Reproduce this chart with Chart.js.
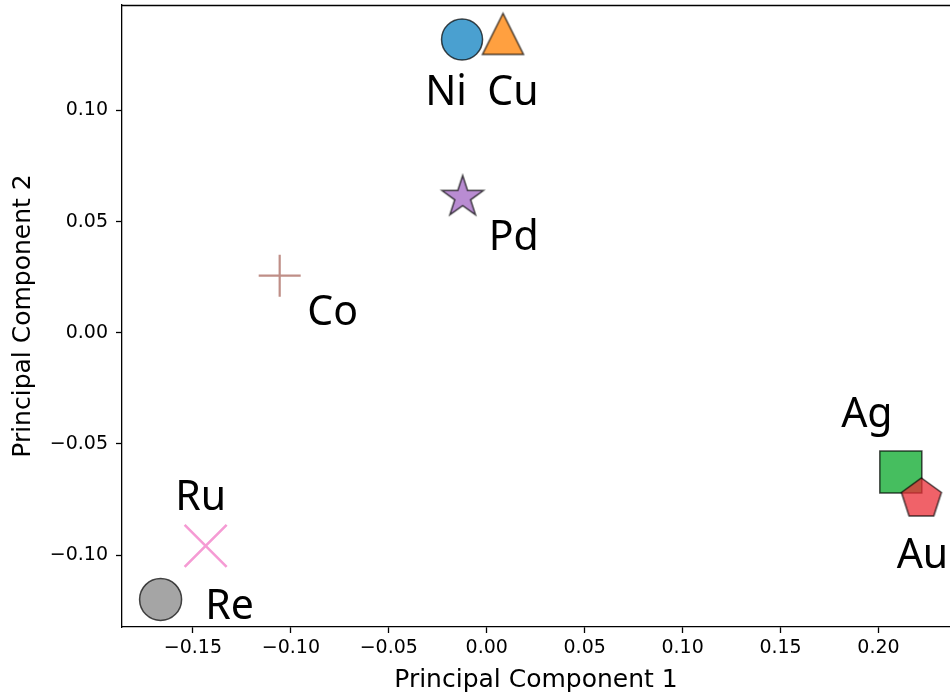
<!DOCTYPE html>
<html>
<head>
<meta charset="utf-8">
<title>PCA of metals</title>
<script src="https://cdn.jsdelivr.net/npm/chart.js@4.4.1/dist/chart.umd.min.js"></script>
<style>
  html, body {
    margin: 0;
    padding: 0;
    background: #fff;
    overflow: hidden;
  }
  #wrap {
    width: 950px;
    height: 698px;
  }
</style>
</head>
<body>
<div id="wrap"><canvas id="pca" width="950" height="698"></canvas></div>
<script>
  // data
  const elements = ['Ni', 'Cu', 'Pd', 'Co', 'Ru', 'Re', 'Ag', 'Au'];
  const pc1 = [-0.0126, 0.0083, -0.0123, -0.1057, -0.1435, -0.1665, 0.2114, 0.2219];
  const pc2 = [0.1320, 0.1345, 0.0610, 0.0257, -0.0959, -0.1200, -0.0626, -0.0748];
  const xTicks = [-0.15, -0.10, -0.05, 0.00, 0.05, 0.10, 0.15, 0.20];
  const yTicks = [-0.10, -0.05, 0.00, 0.05, 0.10];

  const EDGE = 'rgba(0,0,0,0.7)';

  // matplotlib-like markers that chart.js does not have
  function marker(kind, fill, size) {
    const c = document.createElement('canvas');
    c.width = c.height = Math.ceil(size * 2 + 6);
    const g = c.getContext('2d');
    const m = c.width / 2;
    g.beginPath();
    if (kind === 'tri') {
      g.moveTo(m, m - size);
      g.lineTo(m - size, m + size);
      g.lineTo(m + size, m + size);
    } else if (kind === 'star') {
      for (let k = 0; k < 10; k++) {
        const r = k % 2 ? size * 0.382 : size;
        const a = -Math.PI / 2 + k * Math.PI / 5;
        g.lineTo(m + r * Math.cos(a), m + r * Math.sin(a));
      }
    } else if (kind === 'pent') {
      for (let k = 0; k < 5; k++) {
        const a = -Math.PI / 2 + k * 2 * Math.PI / 5;
        g.lineTo(m + size * Math.cos(a), m + size * Math.sin(a));
      }
    }
    g.closePath();
    g.fillStyle = fill;
    g.fill();
    g.lineWidth = 1.5;
    g.lineJoin = 'miter';
    g.strokeStyle = EDGE;
    g.stroke();
    return c;
  }

  const styles = ['circle', marker('tri', 'rgba(255,128,0,0.75)', 20.5), marker('star', 'rgba(161,101,195,0.75)', 21.8),
    'cross', 'crossRot', 'circle', 'rect', marker('pent', 'rgba(235,45,55,0.75)', 21)];
  const fills = ['rgba(13,128,192,0.75)', 'rgba(0,0,0,0)', 'rgba(0,0,0,0)', 'rgba(0,0,0,0)', 'rgba(0,0,0,0)',
    'rgba(135,135,135,0.75)', 'rgba(8,168,41,0.75)', 'rgba(0,0,0,0)'];
  const edges = [EDGE, EDGE, EDGE, '#bf8e87', '#f59bd4', EDGE, EDGE, EDGE];
  const radii = [20.5, 21, 22, 21, 29.7, 21, 29.7, 21];
  const widths = [1.5, 1.5, 1.5, 2.2, 2.6, 1.5, 1.5, 1.5];

  const pointLabels = {
    id: 'pointLabels',
    afterDatasetsDraw(chart, args, opts) {
      const ctx = chart.ctx, xs = chart.scales.x, ys = chart.scales.y;
      ctx.save();
      ctx.font = opts.font;
      ctx.fillStyle = opts.color;
      ctx.textAlign = 'center';
      ctx.textBaseline = 'alphabetic';
      elements.forEach((name, i) => {
        const off = opts.offsets[i];
        ctx.fillText(name, xs.getPixelForValue(pc1[i]) + off[0], ys.getPixelForValue(pc2[i]) + off[1]);
      });
      ctx.restore();
    }
  };

  // top spine
  const frame = {
    id: 'frame',
    afterDraw(chart) {
      const a = chart.chartArea, ctx = chart.ctx;
      ctx.save();
      ctx.strokeStyle = '#000';
      ctx.lineWidth = 1.3;
      ctx.beginPath();
      ctx.moveTo(a.left, Math.round(a.top) + 0.5);
      ctx.lineTo(a.right, Math.round(a.top) + 0.5);
      ctx.stroke();
      ctx.restore();
    }
  };

  function fmt(v) {
    if (Math.abs(v) < 1e-9) return '0.00';
    return (v < 0 ? '\u2212' : '') + Math.abs(v).toFixed(2);
  }

  new Chart(document.getElementById('pca').getContext('2d'), {
    type: 'scatter',
    data: {
      datasets: [{
        data: elements.map((e, i) => ({x: pc1[i], y: pc2[i]})),
        pointStyle: styles,
        pointRadius: radii,
        pointBackgroundColor: fills,
        pointBorderColor: edges,
        pointBorderWidth: widths
      }]
    },
    options: {
      responsive: false,
      animation: false,
      devicePixelRatio: 1,
      events: [],
      layout: {autoPadding: false, padding: {top: 5, left: 0, right: 0, bottom: 0}},
      plugins: {
        legend: {display: false},
        tooltip: {enabled: false},
        pointLabels: {
          font: '41px "Noto Sans"',
          color: '#000',
          offsets: [[-16, 66], [10, 71], [51, 53], [53, 49], [-5, -36], [69, 20], [-34, -45], [1, 69]]
        }
      },
      scales: {
        x: {
          type: 'linear',
          min: -0.1862,
          max: 0.2365,
          afterBuildTicks: s => { s.ticks = xTicks.map(v => ({value: v})); },
          afterFit: s => { s.height = 71; s.paddingLeft = 0; s.paddingRight = 0; },
          ticks: {
            callback: fmt,
            color: '#000',
            padding: 4,
            maxRotation: 0,
            autoSkip: false,
            font: {family: '"DejaVu Sans"', size: 19}
          },
          grid: {drawOnChartArea: false, drawTicks: true, tickLength: 6, tickWidth: 1.3, tickColor: '#000'},
          border: {display: true, color: '#000', width: 1.3},
          title: {
            display: true,
            text: 'Principal Component 1',
            color: '#000',
            padding: {top: 0, bottom: 3},
            font: {family: '"DejaVu Sans"', size: 25}
          }
        },
        y: {
          type: 'linear',
          min: -0.1324,
          max: 0.1475,
          afterBuildTicks: s => { s.ticks = yTicks.map(v => ({value: v})); },
          afterFit: s => { s.width = 122; s.paddingTop = 0; s.paddingBottom = 0; },
          ticks: {
            callback: fmt,
            color: '#000',
            padding: 8,
            autoSkip: false,
            font: {family: '"DejaVu Sans"', size: 19}
          },
          grid: {drawOnChartArea: false, drawTicks: true, tickLength: 6, tickWidth: 1.3, tickColor: '#000'},
          border: {display: true, color: '#000', width: 1.3},
          title: {
            display: true,
            text: 'Principal Component 2',
            color: '#000',
            padding: {top: 8, bottom: 0},
            font: {family: '"DejaVu Sans"', size: 25}
          }
        }
      }
    },
    plugins: [pointLabels, frame]
  });
</script>
</body>
</html>
